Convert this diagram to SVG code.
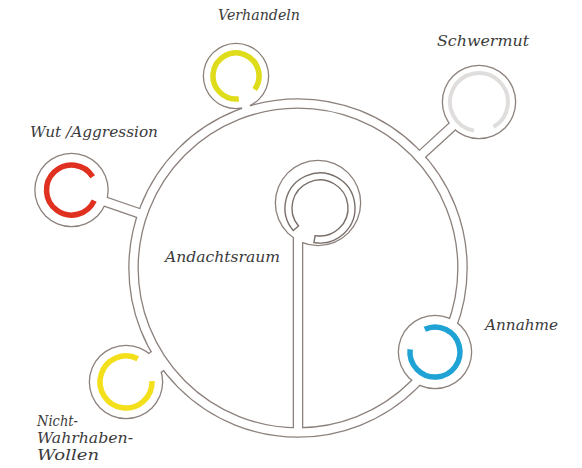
<svg xmlns="http://www.w3.org/2000/svg" width="582" height="468" viewBox="0 0 582 468">
<style>
.dk{fill:none;stroke:#8c817c;stroke-width:10.6}
.wt{fill:none;stroke:#ffffff;stroke-width:8}
.rd{fill:#8c817c}
.rw{fill:#ffffff}
.arc{fill:none;stroke-width:5.5;stroke-linecap:butt}
.ln{fill:#ffffff;stroke:#7a6f6a;stroke-width:1.4}
text{font-family:"DejaVu Serif","Liberation Serif",serif;font-style:italic;font-size:14.5px;fill:#3b3b3b}
</style>
<rect width="582" height="468" fill="#ffffff"/>
<g id="connectors">
  <g id="walls-dark">
    <circle class="dk" cx="298" cy="268" r="164.5"/>
    <line class="dk" x1="298" y1="236" x2="298" y2="432"/>
    <line class="dk" x1="236" y1="76" x2="247.5" y2="111.5"/>
    <line class="dk" x1="479" y1="102" x2="419.2" y2="156.8"/>
    <line class="dk" x1="71.5" y1="190" x2="142.5" y2="214.4"/>
    <line class="dk" x1="126" y1="382" x2="160.9" y2="358.9" style="stroke-width:24"/>
    <circle class="rd" cx="318" cy="203" r="43.3"/>
    <circle class="rd" cx="236" cy="76" r="33.3"/>
    <circle class="rd" cx="479" cy="102" r="37.3"/>
    <circle class="rd" cx="71.5" cy="190" r="37.3"/>
    <circle class="rd" cx="126" cy="382" r="37.3"/>
    <circle class="rd" cx="435" cy="352" r="37.3"/>
  </g>
  <g id="walls-white">
    <circle class="wt" cx="298" cy="268" r="164.5"/>
    <line class="wt" x1="298" y1="236" x2="298" y2="432"/>
    <line class="wt" x1="236" y1="76" x2="247.5" y2="111.5"/>
    <line class="wt" x1="479" y1="102" x2="419.2" y2="156.8"/>
    <line class="wt" x1="71.5" y1="190" x2="142.5" y2="214.4"/>
    <line class="wt" x1="126" y1="382" x2="160.9" y2="358.9" style="stroke-width:21.4"/>
  </g>
</g>
<g id="andachtsraum">
  <circle class="rw" cx="318" cy="203" r="42"/>
  <path class="ln" d="M293.19,230.5 A35,35 0 1 1 313.92,242.47 L315.14,235.57 A28,28 0 1 0 298.55,226 Z"/>
  <text x="165" y="262" textLength="115" lengthAdjust="spacingAndGlyphs">Andachtsraum</text>
</g>
<g id="verhandeln">
  <circle class="rw" cx="236" cy="76" r="32"/>
  <path class="arc" stroke="#dfdc1c" d="M238.8,98.8 A23,23 0 1 1 254.6,89.5"/>
  <text x="218" y="20" textLength="82" lengthAdjust="spacingAndGlyphs">Verhandeln</text>
</g>
<g id="schwermut">
  <circle class="rw" cx="479" cy="102" r="36"/>
  <path class="arc" stroke="#e0dedd" style="stroke-width:4" d="M474,130.6 A29,29 0 1 1 493.5,127.1"/>
  <text x="437" y="46" textLength="92" lengthAdjust="spacingAndGlyphs">Schwermut</text>
</g>
<g id="wut">
  <circle class="rw" cx="71.5" cy="190" r="36"/>
  <path class="arc" stroke="#e0301f" d="M94.2,200.6 A25,25 0 1 1 92.7,176.8"/>
  <text x="30" y="137" textLength="128" lengthAdjust="spacingAndGlyphs">Wut /Aggression</text>
</g>
<g id="nicht">
  <circle class="rw" cx="126" cy="382" r="36"/>
  <path class="arc" stroke="#f3df1a" d="M152,381.1 A26,26 0 1 1 137.8,358.8"/>
  <text x="37" y="426" textLength="41" lengthAdjust="spacingAndGlyphs">Nicht-</text>
  <text x="37" y="443" textLength="96" lengthAdjust="spacingAndGlyphs">Wahrhaben-</text>
  <text x="37" y="460" textLength="62" lengthAdjust="spacingAndGlyphs">Wollen</text>
</g>
<g id="annahme">
  <circle class="rw" cx="435" cy="352" r="36"/>
  <path class="arc" stroke="#1ea3d4" d="M424.8,329.2 A25,25 0 1 1 410.1,349.4"/>
  <text x="485" y="330" textLength="73" lengthAdjust="spacingAndGlyphs">Annahme</text>
</g>
</svg>
